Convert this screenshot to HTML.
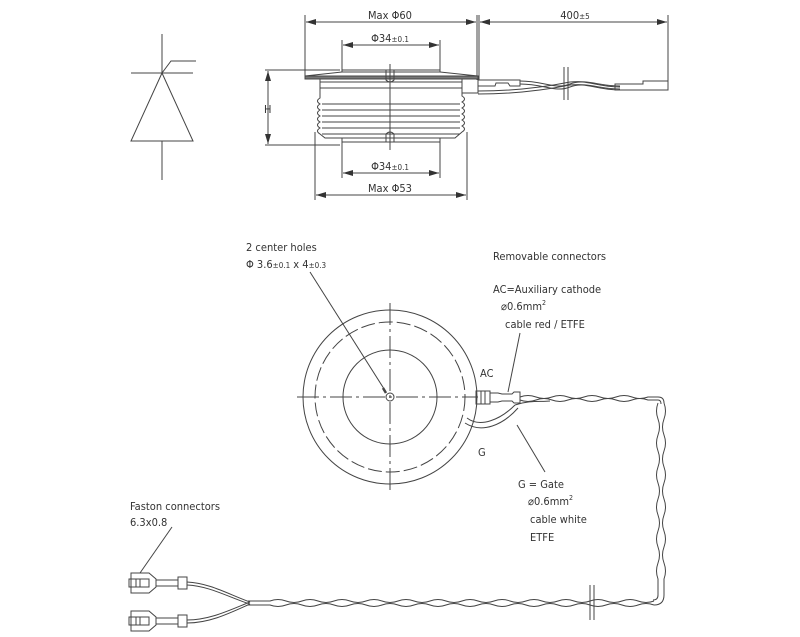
<!DOCTYPE html>
<html><head><meta charset="utf-8"><style>
html,body{margin:0;padding:0;background:#fff;}
svg{display:block;}
text{font-family:"DejaVu Sans Condensed","Liberation Sans",sans-serif;fill:#333;font-size:11px;}
</style></head><body>
<svg width="800" height="637" viewBox="0 0 800 637" xmlns="http://www.w3.org/2000/svg">
<defs>
<marker id="a" viewBox="0 0 10 6" refX="10" refY="3" markerWidth="10" markerHeight="6" orient="auto-start-reverse" markerUnits="userSpaceOnUse"><path d="M0,0 L10,3 L0,6z" fill="#333"/></marker>
</defs>
<g stroke="#444" stroke-width="1" fill="none">
<!-- diode -->
<line x1="162" y1="34" x2="162" y2="73"/>
<line x1="162" y1="141" x2="162" y2="180"/>
<line x1="131" y1="73" x2="193" y2="73"/>
<path d="M162,73 L131,141 L193,141 Z"/>
<path d="M162,73 L171,61 L196,61"/>

<!-- top view dims -->
<line x1="305" y1="15" x2="305" y2="76"/>
<line x1="477" y1="15" x2="477" y2="80"/>
<line x1="479" y1="15" x2="479" y2="80"/>
<line x1="668" y1="15" x2="668" y2="88"/>
<line x1="306" y1="22" x2="476" y2="22" marker-start="url(#a)" marker-end="url(#a)"/>
<line x1="480" y1="22" x2="667" y2="22" marker-start="url(#a)" marker-end="url(#a)"/>
<line x1="342" y1="40" x2="342" y2="72"/>
<line x1="440" y1="40" x2="440" y2="72"/>
<line x1="343" y1="45" x2="439" y2="45" marker-start="url(#a)" marker-end="url(#a)"/>
<line x1="342" y1="140" x2="342" y2="178"/>
<line x1="440" y1="140" x2="440" y2="178"/>
<line x1="343" y1="173" x2="439" y2="173" marker-start="url(#a)" marker-end="url(#a)"/>
<line x1="315" y1="132" x2="315" y2="200"/>
<line x1="467" y1="132" x2="467" y2="200"/>
<line x1="316" y1="195" x2="466" y2="195" marker-start="url(#a)" marker-end="url(#a)"/>
<line x1="265" y1="70" x2="340" y2="70"/>
<line x1="265" y1="145" x2="340" y2="145"/>
<line x1="268" y1="71" x2="268" y2="144" marker-start="url(#a)" marker-end="url(#a)"/>

<!-- device body -->
<line x1="342" y1="70" x2="440" y2="70"/>
<path d="M305,76 L342,72 L440,72 L478,76"/>
<rect x="305" y="76" width="173" height="3" fill="#777"/>
<path d="M320,79 L320,82 L462,82 L462,79"/>
<path d="M320,82 L320,98 q-5,3 0,6 q-5,3 0,6 q-5,3 0,6 q-5,3 0,6 q-5,3 0,6 q-5,3 0,6 L325,138 L455,138 L462,132 q5,-3 0,-6 q5,-3 0,-6 q5,-3 0,-6 q5,-3 0,-6 q5,-3 0,-6 q5,-3 0,-6 L462,82"/>
<line x1="320" y1="88" x2="462" y2="88"/>
<line x1="322" y1="104" x2="460" y2="104"/>
<line x1="322" y1="110" x2="460" y2="110"/>
<line x1="322" y1="116" x2="460" y2="116"/>
<line x1="322" y1="122" x2="460" y2="122"/>
<line x1="322" y1="128" x2="460" y2="128"/>
<line x1="322" y1="134" x2="460" y2="134"/>
<path d="M342,138 L342,142 L440,142 L440,138"/>
<line x1="390" y1="64" x2="390" y2="150"/>
<path d="M386,70 L386,80 q4,4 8,0 L394,70"/>
<path d="M386,142 L386,134 q4,-4 8,0 L394,142"/>
<!-- top cable -->
<path d="M478,80 L478,86 L495,86 L496,83 L508,83 L510,86 L520,86 L520,80 Z"/>
<path d="M462,86 L462,93 L478,93 L478,86"/>
<path d="M520,81 C545,81 555,90 570,84 C585,78 595,87 620,87"/>
<path d="M520,84 C545,84 555,93 570,87 C585,81 595,90 620,90"/>
<path d="M478,91 C520,91 550,86 570,82 C590,80 600,86 620,86"/>
<path d="M478,94 C520,94 550,89 570,85 C590,83 600,89 620,89"/>
<line x1="564" y1="67" x2="564" y2="100"/>
<line x1="568" y1="67" x2="568" y2="100"/>
<path d="M615,84 L615,90 L668,90 L668,81 L643,81 L643,84 Z"/>

<!-- bottom view -->
<circle cx="390" cy="397" r="87"/>
<circle cx="390" cy="397" r="75" stroke-dasharray="14,4"/>
<circle cx="390" cy="397" r="47"/>
<circle cx="390" cy="397" r="4"/>
<line x1="297" y1="397" x2="478" y2="397" stroke-dasharray="22,4,3,4"/>
<line x1="390" y1="303" x2="390" y2="490" stroke-dasharray="22,4,3,4"/>
<line x1="310" y1="272" x2="386" y2="392"/>
<path d="M383,388 L386,393" stroke-width="2.5"/>
<line x1="520" y1="333" x2="508" y2="392"/>
<line x1="517" y1="425" x2="545" y2="472"/>
<line x1="172" y1="527" x2="140" y2="573"/>
<!-- AC connector -->
<path d="M476,391 L490,391 L490,404 L476,404 Z"/>
<line x1="481" y1="391" x2="481" y2="404"/>
<line x1="485" y1="391" x2="485" y2="404"/>
<path d="M490,393 L498,393 L502,394 L512,394 L514,392 L520,392 L520,403 L514,403 L512,401 L502,401 L498,402 L490,402"/>
<!-- G cable -->
<path d="M467,418 C480,428 500,420 515,405"/>
<path d="M465,423 C482,434 503,425 518,408"/>
<!-- twisted top run -->
<path d="M520,397 q8,-3 16,0 t16,0 t16,0 t16,0 t16,0 t16,0 t16,0 t16,0 L658,397"/>
<path d="M520,400 q8,3 16,0 t16,0 t16,0 t16,0 t16,0 t16,0 t16,0 t16,0 L658,400"/>
<path d="M515,405 C530,400 540,402 550,401"/>
<path d="M658,397 q6,0 6,6"/><path d="M658,400 q3,0 3,4"/>
<!-- vertical run -->
<path d="M664,403 q3,8 0,16 t0,16 t0,16 t0,16 t0,16 t0,16 t0,16 t0,16 t0,16 t0,16 t0,16 L664,595"/>
<path d="M658,403 q-3,8 0,16 t0,16 t0,16 t0,16 t0,16 t0,16 t0,16 t0,16 t0,16 t0,16 t0,16 L658,595"/>
<path d="M664,595 q0,10 -10,10"/><path d="M658,595 q0,5 -5,5"/>
<!-- bottom run -->
<path d="M654,605 q-8,-3 -16,0 t-16,0 t-16,0 t-16,0 t-16,0 t-16,0 t-16,0 t-16,0 t-16,0 t-16,0 t-16,0 t-16,0 t-16,0 t-16,0 t-16,0 t-16,0 t-16,0 t-16,0 t-16,0 t-16,0 t-16,0 t-16,0 t-16,0 t-16,0 L248,605"/>
<path d="M654,601 q-8,3 -16,0 t-16,0 t-16,0 t-16,0 t-16,0 t-16,0 t-16,0 t-16,0 t-16,0 t-16,0 t-16,0 t-16,0 t-16,0 t-16,0 t-16,0 t-16,0 t-16,0 t-16,0 t-16,0 t-16,0 t-16,0 t-16,0 t-16,0 t-16,0 L248,601"/>
<line x1="590" y1="585" x2="590" y2="620"/>
<line x1="594" y1="585" x2="594" y2="620"/>
<!-- split -->
<path d="M250,602 C230,595 210,583 187,582"/>
<path d="M250,604 C230,598 210,586 187,585"/>
<path d="M250,602 C230,610 210,620 187,620"/>
<path d="M250,604 C230,613 210,623 187,623"/>
<!-- faston upper -->
<path d="M131,573 L149,573 L156,579 L156,587 L149,593 L131,593 Z"/>
<rect x="129" y="579" width="20" height="8"/>
<line x1="136" y1="579" x2="136" y2="587"/><line x1="140" y1="579" x2="140" y2="587"/>
<rect x="156" y="580" width="22" height="6"/>
<rect x="178" y="577" width="9" height="12"/>
<!-- faston lower -->
<path d="M131,611 L149,611 L156,617 L156,625 L149,631 L131,631 Z"/>
<rect x="129" y="617" width="20" height="8"/>
<line x1="136" y1="617" x2="136" y2="625"/><line x1="140" y1="617" x2="140" y2="625"/>
<rect x="156" y="618" width="22" height="6"/>
<rect x="178" y="615" width="9" height="12"/>
</g>
<g>
<text x="390" y="19" text-anchor="middle" font-size="12">Max Φ60</text>
<text x="575" y="19" text-anchor="middle" font-size="12">400<tspan font-size="8">±5</tspan></text>
<text x="390" y="42" text-anchor="middle" font-size="12">Φ34<tspan font-size="8">±0.1</tspan></text>
<text x="390" y="170" text-anchor="middle" font-size="12">Φ34<tspan font-size="8">±0.1</tspan></text>
<text x="390" y="192" text-anchor="middle" font-size="12">Max Φ53</text>
<text x="264" y="113" font-size="12">H</text>
<text x="246" y="251">2 center holes</text>
<text x="246" y="268">Φ 3.6<tspan font-size="8">±0.1</tspan> x 4<tspan font-size="8">±0.3</tspan></text>
<text x="493" y="260">Removable connectors</text>
<text x="493" y="293">AC=Auxiliary cathode</text>
<text x="501" y="310">⌀0.6mm<tspan font-size="7" dy="-5">2</tspan></text>
<text x="505" y="328">cable red / ETFE</text>
<text x="480" y="377">AC</text>
<text x="478" y="456">G</text>
<text x="518" y="488">G = Gate</text>
<text x="528" y="505">⌀0.6mm<tspan font-size="7" dy="-5">2</tspan></text>
<text x="530" y="523">cable white</text>
<text x="530" y="541">ETFE</text>
<text x="130" y="510">Faston connectors</text>
<text x="130" y="526">6.3x0.8</text>
</g>
</svg>
</body></html>
